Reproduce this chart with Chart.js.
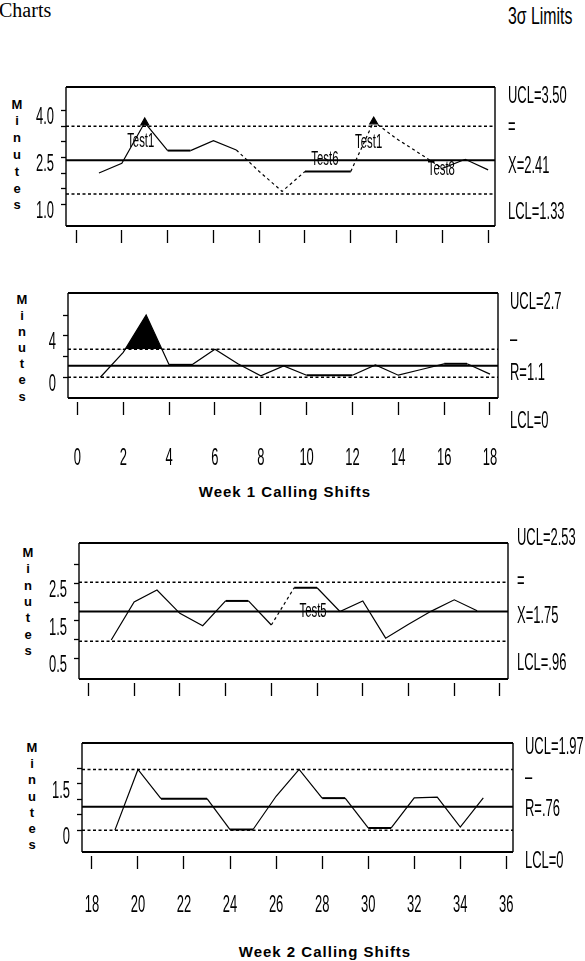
<!DOCTYPE html>
<html>
<head>
<meta charset="utf-8">
<title>X-bar and R Charts</title>
<script src="https://cdn.jsdelivr.net/npm/chart.js@4.4.1/dist/chart.umd.min.js"></script>
<style>
  html, body { margin: 0; padding: 0; background: #fff; }
  #page { position: relative; width: 585px; height: 961px; overflow: hidden; background: #fff; }
  #page canvas { position: absolute; left: 0; }
  .txt { position: absolute; color: #000; white-space: nowrap; }
  .heading { left: -1px; top: 0; font: 20px/20px "Liberation Serif", "Times New Roman", serif; }
  .sigma { left: 508px; top: 4px; font: 24px/24px "Liberation Sans", Arial, sans-serif; transform: scaleX(0.66); transform-origin: 0 0; }
  .minutes { width: 20px; text-align: center; font: bold 13px "Liberation Sans", Arial, sans-serif; }
  .week { font: bold 15px/18px "Liberation Sans", Arial, sans-serif; letter-spacing: 1px; transform: translateX(-50%); }
</style>
</head>
<body>
<div id="page">
  <div class="txt heading">Charts</div>
  <div class="txt sigma">3σ Limits</div>

  <div class="txt minutes" style="left:7px; top:96.6px; line-height:16.8px">M<br>i<br>n<br>u<br>t<br>e<br>s</div>
  <canvas id="xbar1" width="585" height="170" style="top:80px"></canvas>

  <div class="txt minutes" style="left:12px; top:292px; line-height:16.1px">M<br>i<br>n<br>u<br>t<br>e<br>s</div>
  <canvas id="range1" width="585" height="200" style="top:280px"></canvas>
  <div class="txt week" style="left:285px; top:483px">Week 1 Calling Shifts</div>

  <div class="txt minutes" style="left:18px; top:544.8px; line-height:16.4px">M<br>i<br>n<br>u<br>t<br>e<br>s</div>
  <canvas id="xbar2" width="585" height="210" style="top:500px"></canvas>

  <div class="txt minutes" style="left:22px; top:740px; line-height:16.2px">M<br>i<br>n<br>u<br>t<br>e<br>s</div>
  <canvas id="range2" width="585" height="215" style="top:715px"></canvas>
  <div class="txt week" style="left:325px; top:943px">Week 2 Calling Shifts</div>
</div>

<script>
// Calling shifts and the plotted subgroup statistics (minutes)
const week1Shifts = [1, 2, 3, 4, 5, 6, 7, 8, 9, 10, 11, 12, 13, 14, 15, 16, 17, 18];
const week1Xbar = [2.00, 2.31, 3.62, 2.72, 2.72, 3.04, 2.74, 2.05, 1.41, 2.05, 2.05, 2.05, 3.65, 3.10, 2.63, 2.15, 2.44, 2.10];
const week1Range = [0.0, 2.4, 6.0, 1.2, 1.2, 2.7, 1.3, 0.15, 1.1, 0.2, 0.2, 0.2, 1.2, 0.2, 0.75, 1.3, 1.3, 0.3];

const week2Shifts = [19, 20, 21, 22, 23, 24, 25, 26, 27, 28, 29, 30, 31, 32, 33, 34, 35];
const week2Xbar = [0.99, 2.00, 2.32, 1.70, 1.37, 2.03, 2.03, 1.39, 2.38, 2.38, 1.75, 2.03, 1.04, 1.41, 1.76, 2.06, 1.77];
const week2Range = [0.0, 1.97, 1.02, 1.02, 1.02, 0.02, 0.02, 1.1, 1.97, 1.04, 1.04, 0.07, 0.07, 1.05, 1.07, 0.1, 1.05];

// 3 sigma limits: UCL, centre line, LCL
const week1XbarLimits = [3.50, 2.41, 1.33];
const week1RangeLimits = [2.7, 1.1, 0];
const week2XbarLimits = [2.53, 1.75, 0.96];
const week2RangeLimits = [1.97, 0.76, 0];

const week1XbarLimitText = ['UCL=3.50', '=', 'X=2.41', 'LCL=1.33'];
const week1RangeLimitText = ['UCL=2.7', '–', 'R=1.1', 'LCL=0'];
const week2XbarLimitText = ['UCL=2.53', '=', 'X=1.75', 'LCL=.96'];
const week2RangeLimitText = ['UCL=1.97', '–', 'R=.76', 'LCL=0'];

// out-of-control signals and test flags
const week1XbarSignals = [3, 13];
const week1XbarTestShifts = [3, 11, 13, 16];
const week1XbarTestNames = ['Test1', 'Test6', 'Test1', 'Test8'];
const week2XbarTestShifts = [28];
const week2XbarTestNames = ['Test5'];

// axis ticks
const week1ShiftTicks = [0, 2, 4, 6, 8, 10, 12, 14, 16, 18];
const week1ShiftLabels = ['0', '2', '4', '6', '8', '10', '12', '14', '16', '18'];
const week2ShiftTicks = [18, 20, 22, 24, 26, 28, 30, 32, 34, 36];
const week2ShiftLabels = ['18', '20', '22', '24', '26', '28', '30', '32', '34', '36'];
const week1XbarTicks = [1.0, 1.5, 2.0, 2.5, 3.0, 3.5, 4.0];
const week1XbarTickLabels = ['1.0', '', '', '2.5', '', '', '4.0'];
const week1RangeTicks = [0, 2, 4, 6];
const week1RangeTickLabels = ['0', '', '4', ''];
const week2XbarTicks = [0.5, 1.0, 1.5, 2.0, 2.5, 3.0];
const week2XbarTickLabels = ['0.5', '', '1.5', '', '2.5', ''];
const week2RangeTicks = [0, 0.5, 1.0, 1.5, 2.0];
const week2RangeTickLabels = ['0', '', '', '1.5', ''];

const FONT = '"Liberation Sans", Arial, sans-serif';
const SQUEEZE = 0.54;   // the plotter lettering is very tall and narrow

function squeezedText(ctx, text, x, y, size, align) {
    ctx.save();
    ctx.font = size + 'px ' + FONT;
    ctx.fillStyle = '#000';
    ctx.textAlign = align;
    ctx.textBaseline = 'middle';
    ctx.translate(x, y);
    ctx.scale(SQUEEZE, 1);
    ctx.fillText(text, 0, 0);
    ctx.restore();
}

// frame round the plot area, tick labels, limit captions on the right, test flags
const chartDecor = {
    id: 'chartDecor',
    afterDatasetsDraw(chart, args, o) {
        const ctx = chart.ctx;
        const a = chart.chartArea;
        const xs = chart.scales.x, ys = chart.scales.y;

        ctx.save();
        ctx.strokeStyle = '#000';
        ctx.lineWidth = 2;
        ctx.beginPath();
        ctx.moveTo(a.left, a.top); ctx.lineTo(a.right, a.top);
        ctx.moveTo(a.left, a.bottom); ctx.lineTo(a.right, a.bottom);
        ctx.stroke();
        ctx.lineWidth = 1.4;
        ctx.beginPath();
        ctx.moveTo(a.left, a.top); ctx.lineTo(a.left, a.bottom);
        ctx.moveTo(a.right, a.top); ctx.lineTo(a.right, a.bottom);
        ctx.stroke();
        ctx.restore();

        o.yTicks.forEach(function(v, i) {
            if (o.yLabels[i]) squeezedText(ctx, o.yLabels[i], a.left - 12, ys.getPixelForValue(v) + 7, 24, 'right');
        });
        if (o.xLabels) {
            o.xTicks.forEach(function(v, i) {
                squeezedText(ctx, o.xLabels[i], xs.getPixelForValue(v), a.bottom + o.xLabelDy, 24, 'center');
            });
        }

        const anchor = [0, 0, 1, 2];
        o.limitText.forEach(function(t, i) {
            const py = ys.getPixelForValue(o.limits[anchor[i]]) + o.labelDy[i];
            squeezedText(ctx, t, a.right + o.labelGap, py, 24, 'left');
        });

        o.testShifts.forEach(function(s, i) {
            const k = o.shifts.indexOf(s);
            const px = xs.getPixelForValue(s) + o.testDx[i];
            const py = ys.getPixelForValue(o.values[k]) + o.testDy[i];
            squeezedText(ctx, o.testNames[i], px, py, 21, 'center');
        });
    }
};

function drawControlChart(id, s, lay) {
    // UCL dashed, centre solid, LCL dashed
    const datasets = s.limits.map(function(v, i) {
        return {
            data: [{x: lay.xRange[0], y: v}, {x: lay.xRange[1], y: v}],
            borderColor: '#000',
            borderWidth: i === 1 ? 2 : 1.5,
            borderDash: i === 1 ? [] : [3, 2.5],
            pointRadius: 0,
            fill: false,
            order: 2
        };
    });

    datasets.push({
        data: s.shifts.map(function(x, i) { return {x: x, y: s.values[i]}; }),
        borderColor: '#000',
        borderWidth: 1.2,
        pointStyle: 'triangle',
        pointBackgroundColor: '#000',
        pointBorderColor: '#000',
        pointRadius: function(c) { return s.signals.includes(s.shifts[c.dataIndex]) ? 4.5 : 0; },
        fill: s.fillAboveUcl ? {target: {value: s.limits[0]}, above: '#000', below: 'rgba(0,0,0,0)'} : false,
        segment: {
            borderDash: function(c) { return lay.dashedFrom.includes(s.shifts[c.p0DataIndex]) ? [3, 3] : undefined; },
            borderWidth: function(c) { return Math.abs(c.p0.y - c.p1.y) < 0.5 ? 2 : undefined; }
        },
        order: 1
    });

    new Chart(document.getElementById(id), {
        type: 'line',
        data: {datasets: datasets},
        options: {
            responsive: false,
            animation: false,
            events: [],
            layout: {padding: lay.pad},
            plugins: {
                legend: {display: false},
                tooltip: {enabled: false},
                chartDecor: {
                    shifts: s.shifts, values: s.values, limits: s.limits, limitText: s.limitText,
                    testShifts: s.testShifts, testNames: s.testNames,
                    xTicks: s.xTicks, xLabels: s.xLabels, yTicks: s.yTicks, yLabels: s.yLabels,
                    xLabelDy: lay.xLabelDy, labelDy: lay.labelDy, labelGap: lay.labelGap,
                    testDx: lay.testDx, testDy: lay.testDy
                }
            },
            scales: {
                x: {
                    type: 'linear',
                    min: lay.xRange[0],
                    max: lay.xRange[1],
                    afterBuildTicks: function(sc) { sc.ticks = s.xTicks.map(function(v) { return {value: v}; }); },
                    afterFit: function(sc) { sc.height = lay.axisH; },
                    border: {display: false},
                    grid: {drawOnChartArea: false, color: '#000', tickLength: 17, tickWidth: 1.3, tickBorderDash: [0, 4, 13, 40]},
                    ticks: {display: false, autoSkip: false}
                },
                y: {
                    min: lay.yRange[0],
                    max: lay.yRange[1],
                    afterBuildTicks: function(sc) { sc.ticks = s.yTicks.map(function(v) { return {value: v}; }); },
                    afterFit: function(sc) { sc.width = lay.axisW; },
                    border: {display: false},
                    grid: {drawOnChartArea: false, color: '#000', tickLength: 5, tickWidth: 1.3},
                    ticks: {display: false, autoSkip: false}
                }
            }
        },
        plugins: [chartDecor]
    });
}

drawControlChart('xbar1', {
    shifts: week1Shifts, values: week1Xbar, limits: week1XbarLimits, limitText: week1XbarLimitText,
    signals: week1XbarSignals, testShifts: week1XbarTestShifts, testNames: week1XbarTestNames,
    xTicks: week1ShiftTicks, xLabels: null, yTicks: week1XbarTicks, yLabels: week1XbarTickLabels
}, {
    xRange: [-0.44, 18.3], yRange: [0.30, 4.76],
    pad: {top: 7, bottom: 7, left: 0, right: 90}, axisW: 66, axisH: 17, xLabelDy: 0,
    labelGap: 13, labelDy: [-30, 1, 6, 18],
    testDx: [-4, -3, -5, -1], testDy: [19, -12, 21, 1],
    dashedFrom: [7, 8, 9, 12, 13, 14, 15]
});

drawControlChart('range1', {
    shifts: week1Shifts, values: week1Range, limits: week1RangeLimits, limitText: week1RangeLimitText,
    signals: [], testShifts: [], testNames: [], fillAboveUcl: true,
    xTicks: week1ShiftTicks, xLabels: week1ShiftLabels, yTicks: week1RangeTicks, yLabels: week1RangeTickLabels
}, {
    xRange: [-0.41, 18.35], yRange: [-2.0, 8.13],
    pad: {top: 13, bottom: 2, left: 0, right: 87}, axisW: 68, axisH: 80, xLabelDy: 60,
    labelGap: 12, labelDy: [-47, -10, 8, 44],
    testDx: [], testDy: [], dashedFrom: []
});

drawControlChart('xbar2', {
    shifts: week2Shifts, values: week2Xbar, limits: week2XbarLimits, limitText: week2XbarLimitText,
    signals: [], testShifts: week2XbarTestShifts, testNames: week2XbarTestNames,
    xTicks: week2ShiftTicks, xLabels: null, yTicks: week2XbarTicks, yLabels: week2XbarTickLabels
}, {
    xRange: [17.59, 36.35], yRange: [-0.045, 3.57],
    pad: {top: 43, bottom: 14, left: 0, right: 77}, axisW: 79, axisH: 17, xLabelDy: 0,
    labelGap: 9, labelDy: [-44, -1, 5, 22],
    testDx: [-4], testDy: [23], dashedFrom: [26]
});

drawControlChart('range2', {
    shifts: week2Shifts, values: week2Range, limits: week2RangeLimits, limitText: week2RangeLimitText,
    signals: [], testShifts: [], testNames: [],
    xTicks: week2ShiftTicks, xLabels: week2ShiftLabels, yTicks: week2RangeTicks, yLabels: week2RangeTickLabels
}, {
    xRange: [17.57, 36.29], yRange: [-0.71, 2.83],
    pad: {top: 28, bottom: 3, left: 0, right: 72}, axisW: 82, axisH: 75, xLabelDy: 53,
    labelGap: 12, labelDy: [-22, 8, 3, 31],
    testDx: [], testDy: [], dashedFrom: []
});
</script>
</body>
</html>
